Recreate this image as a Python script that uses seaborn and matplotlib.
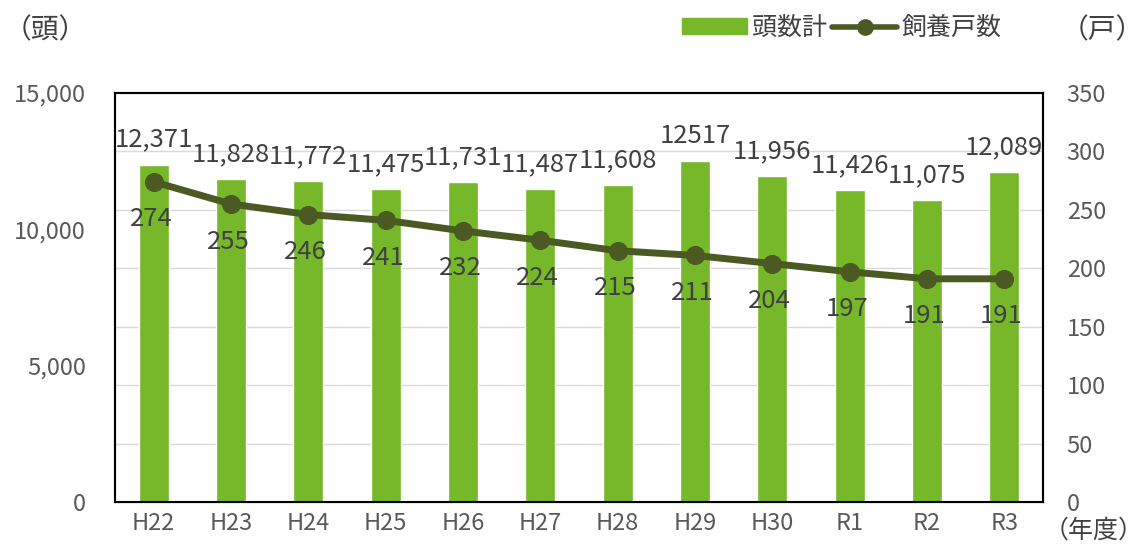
import matplotlib
matplotlib.use("Agg")
import matplotlib.pyplot as plt
import seaborn as sns
import pandas as pd
import numpy as np
from matplotlib.lines import Line2D
from matplotlib.patches import Patch

years = ["H22", "H23", "H24", "H25", "H26", "H27", "H28", "H29", "H30", "R1", "R2", "R3"]
head_counts = [12371, 11828, 11772, 11475, 11731, 11487, 11608, 12517, 11956, 11426, 11075, 12089]
head_labels = ["12,371", "11,828", "11,772", "11,475", "11,731", "11,487", "11,608", "12517",
               "11,956", "11,426", "11,075", "12,089"]
farms = [274, 255, 246, 241, 232, 224, 215, 211, 204, 197, 191, 191]
left_ticks = [0, 5000, 10000, 15000]
left_tick_labels = ["0", "5,000", "10,000", "15,000"]
right_ticks = [0, 50, 100, 150, 200, 250, 300, 350]

sns.set_theme(style="white")
FONT = ["Noto Sans CJK JP", "DejaVu Sans"]
plt.rcParams["font.family"] = FONT

BAR = "#76b82a"
LINE = "#4b5a22"
TXT = "#404040"
TICK = "#595959"

df = pd.DataFrame({"year": years, "heads": head_counts, "farms": farms})

fig = plt.figure(figsize=(11.48, 5.47), dpi=100)
ax = fig.add_axes([115/1148, 1 - 502/547, (1043-115)/1148, (502-93)/547])
sns.barplot(data=df, x="year", y="heads", color=BAR, width=0.39, ax=ax, saturation=1)
ax.set_ylim(0, 15000)
ax.set_xlim(-0.5, len(years) - 0.5)
ax.set_yticks(left_ticks)
ax.set_yticklabels(left_tick_labels)
ax.set_xlabel("")
ax.set_ylabel("")

ax2 = ax.twinx()
sns.lineplot(data=df, x="year", y="farms", color=LINE, linewidth=5, marker="o",
             markersize=13, markeredgecolor=LINE, ax=ax2, sort=False)
ax2.set_ylim(0, 350)
ax2.set_yticks(right_ticks)
ax2.set_ylabel("")
ax2.set_xlabel("")

# gridlines every 50 on right axis
for v in right_ticks[1:-1]:
    ax.axhline(v / 350 * 15000, color="#d9d9d9", linewidth=1, zorder=0)
ax.set_axisbelow(True)

for a in (ax, ax2):
    for s in a.spines.values():
        s.set_color("black")
        s.set_linewidth(1.5)
    a.tick_params(length=0)
ax.tick_params(axis="y", labelsize=17, labelcolor=TICK, pad=21)
ax.tick_params(axis="x", labelsize=17, labelcolor=TICK, pad=7)
ax2.tick_params(axis="y", labelsize=17, labelcolor=TICK, pad=17)
ax.spines["bottom"].set_color("#bbbbbb")
ax.spines["bottom"].set_linewidth(1)

for i, (v, lab) in enumerate(zip(head_counts, head_labels)):
    ax.annotate(lab, (i, v), xytext=(0, 18), textcoords="offset points",
                ha="center", va="center", fontsize=18.5, color=TXT)
for i, v in enumerate(farms):
    ax2.annotate(str(v), (i, v), xytext=(-2, -27), textcoords="offset points",
                 ha="center", va="center", fontsize=18.5, color=TXT)

fig.text(45/1148, 1 - 30/547, "（頭）", fontsize=20, color=TXT, va="center", ha="center")
fig.text(1102/1148, 1 - 30/547, "（戸）", fontsize=20, color=TXT, va="center", ha="center")
fig.text(1144/1148, 1 - 531/547, "（年度）", fontsize=18, color=TXT, va="center", ha="right")

handles = [Patch(facecolor=BAR, edgecolor=BAR),
           Line2D([0], [0], color=LINE, linewidth=4, marker="o", markersize=11)]
fig.legend(handles, ["頭数計", "飼養戸数"], loc="center", bbox_to_anchor=(842/1148, 1 - 28/547),
           ncol=2, frameon=False, fontsize=18, handlelength=2.6, handleheight=0.6,
           columnspacing=0.2, handletextpad=0.2, labelcolor=TXT)

fig.savefig("out.png", dpi=100, facecolor="white")
